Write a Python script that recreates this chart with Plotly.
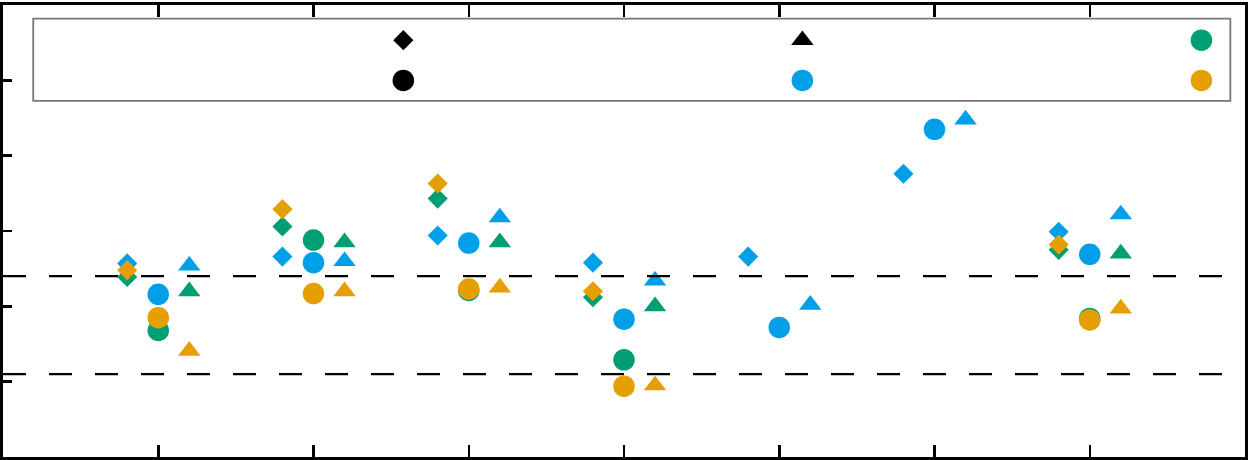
import plotly.graph_objects as go

# ---------------- data ----------------
categories = [1, 2, 3, 4, 5, 6, 7]

# diamond markers
green_diamond = [2.39, 3.06, 3.43, 2.12, None, None, 2.75]
blue_diamond = [2.57, 2.66, 2.94, 2.58, 2.66, 3.76, 2.99]
orange_diamond = [2.48, 3.29, 3.63, 2.20, None, None, 2.82]

# circle markers
green_circle = [1.68, 2.88, 2.21, 1.29, None, None, 1.84]
blue_circle = [2.16, 2.58, 2.84, 1.83, 1.72, 4.35, 2.69]
orange_circle = [1.85, 2.17, 2.23, 0.94, None, None, 1.82]

# triangle markers
green_triangle = [2.20, 2.85, 2.85, 2.00, None, None, 2.70]
blue_triangle = [2.54, 2.60, 3.18, 2.34, 2.02, 4.48, 3.22]
orange_triangle = [1.41, 2.20, 2.25, 0.95, None, None, 1.97]

reference_lines = [2.40, 1.10]

y_ticks = [1, 2, 3, 4, 5]

# ---------------- style ----------------
GREEN = "#009E73"
BLUE = "#009FE8"
ORANGE = "#E69F00"
BLACK = "#000000"

SYM = {"diamond": ("diamond", 15.5), "circle": ("circle", 21.5), "triangle": ("triangle-up", 19.5)}
OFFSET = {"diamond": -0.2, "circle": 0.0, "triangle": 0.2}

series = [
    ("green", "diamond", GREEN, green_diamond),
    ("green", "circle", GREEN, green_circle),
    ("green", "triangle", GREEN, green_triangle),
    ("blue", "diamond", BLUE, blue_diamond),
    ("blue", "circle", BLUE, blue_circle),
    ("blue", "triangle", BLUE, blue_triangle),
    ("orange", "diamond", ORANGE, orange_diamond),
    ("orange", "circle", ORANGE, orange_circle),
    ("orange", "triangle", ORANGE, orange_triangle),
]

fig = go.Figure()

for cname, shape, color, vals in series:
    sym, size = SYM[shape]
    fig.add_trace(go.Scatter(
        x=[c + OFFSET[shape] for c in categories],
        y=vals,
        mode="markers",
        name=f"{cname} {shape}",
        marker=dict(symbol=sym, size=size, color=color, line=dict(width=0)),
        showlegend=False,
        hoverinfo="skip",
    ))

# ---------------- manual legend (layout only) ----------------
W, H = 1250, 460
ML, MR, MT, MB = 3, 2, 3, 3
PW, PH = W - ML - MR, H - MT - MB


def px_to_paper_x(px):
    return (px - ML) / PW


def px_to_paper_y(py):
    return (H - MB - py) / PH


legend_entries = [
    # (symbol key, color, column, row)
    ("diamond", BLACK, 0, 0),
    ("circle", BLACK, 0, 1),
    ("triangle", BLACK, 1, 0),
    ("circle", BLUE, 1, 1),
    ("circle", GREEN, 2, 0),
    ("circle", ORANGE, 2, 1),
]
box_left, box_right, box_top, box_bottom = 33.3, 1233.3, 16.7, 99.3
col_width = 400
marker_in_col = 371
row_y = [38.3, 78.8]

for key, color, col, row in legend_entries:
    sym, size = SYM[key]
    fig.add_trace(go.Scatter(
        x=[px_to_paper_x(box_left + col * col_width + marker_in_col)],
        y=[px_to_paper_y(row_y[row])],
        xaxis="x2", yaxis="y2",
        mode="markers",
        marker=dict(symbol=sym, size=size, color=color, line=dict(width=0)),
        showlegend=False,
        hoverinfo="skip",
    ))

shapes = [
    dict(type="rect", xref="paper", yref="paper",
         x0=px_to_paper_x(box_left), x1=px_to_paper_x(box_right),
         y0=px_to_paper_y(box_bottom), y1=px_to_paper_y(box_top),
         line=dict(color="#777777", width=1.8), fillcolor="white", layer="below"),
]
for v in reference_lines:
    shapes.append(dict(type="line", xref="paper", yref="y", x0=0, x1=1, y0=v, y1=v,
                       line=dict(color=BLACK, width=2.2, dash="23px,23px"), layer="above"))

fig.update_layout(
    width=W, height=H,
    margin=dict(l=ML, r=MR, t=MT, b=MB, pad=0),
    paper_bgcolor="white", plot_bgcolor="white",
    showlegend=False,
    shapes=shapes,
    xaxis=dict(range=[0, 8], tickvals=categories, showticklabels=False,
               ticks="inside", ticklen=12, tickwidth=2.5, tickcolor=BLACK,
               showline=True, linewidth=3, linecolor=BLACK, mirror="ticks",
               showgrid=False, zeroline=False, fixedrange=True),
    yaxis=dict(range=[0, 6], tickvals=y_ticks, showticklabels=False,
               ticks="inside", ticklen=9, tickwidth=2.5, tickcolor=BLACK,
               showline=True, linewidth=3, linecolor=BLACK, mirror=True,
               showgrid=False, zeroline=False, fixedrange=True),
    xaxis2=dict(overlaying="x", anchor="y2", range=[0, 1], visible=False, fixedrange=True),
    yaxis2=dict(overlaying="y", anchor="x2", range=[0, 1], visible=False, fixedrange=True),
)

fig.write_html(
    "out.html",
    config={"displayModeBar": False, "staticPlot": True},
    post_script="document.body.style.margin='0';document.body.style.overflow='hidden';",
)
